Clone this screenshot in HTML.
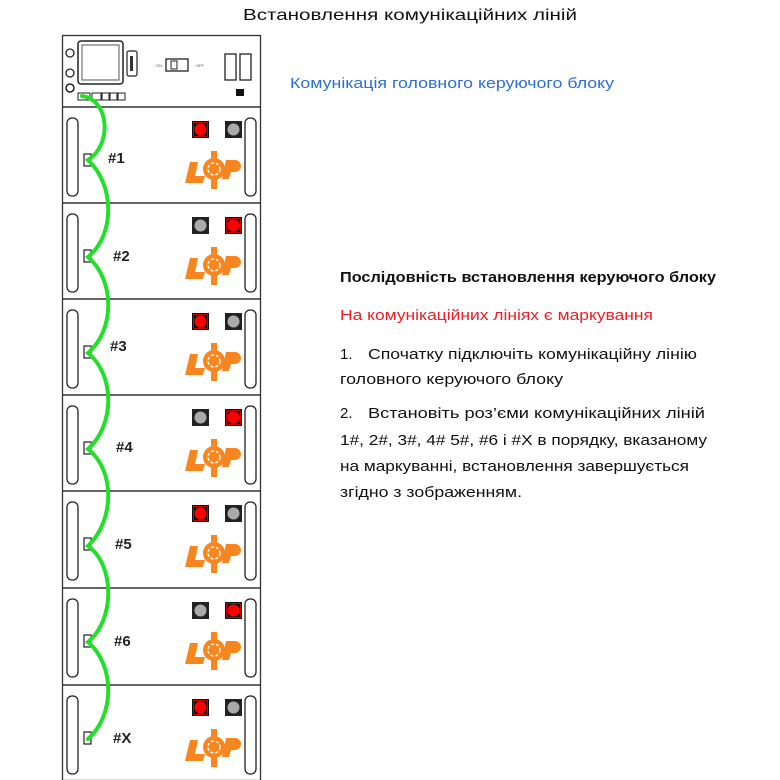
<!DOCTYPE html>
<html><head><meta charset="utf-8"><style>
html,body{margin:0;padding:0;background:#fff;width:780px;height:780px;overflow:hidden}
svg{display:block}
text{font-family:"Liberation Sans",sans-serif}
</style></head><body>
<svg width="780" height="780" viewBox="0 0 780 780" xmlns="http://www.w3.org/2000/svg">
<defs>
<g id="mod">
  <rect x="67" y="11" width="11" height="78" rx="5" fill="#fff" stroke="#222" stroke-width="1.3"/>
  <rect x="245" y="11" width="11" height="78" rx="5" fill="#fff" stroke="#222" stroke-width="1.3"/>
  <rect x="84" y="47" width="7" height="12" fill="#fff" stroke="#222" stroke-width="1.2"/>
  <g fill="#f7861e">
    <path d="M190 55 h8 l-3 14 h10 l-2 7 h-18 z"/>
    <circle cx="214" cy="62" r="11"/>
    <rect x="211" y="44" width="6" height="8"/>
    <rect x="211" y="72" width="6" height="10"/>
    <path d="M226 53 h9 a6 6 0 0 1 0 12 h-4 l-2 7 h-7 z"/>
  </g>
  <circle cx="214" cy="62" r="6" fill="none" stroke="#fff" stroke-width="1.5" stroke-dasharray="3 2"/>
</g>
<g id="red"><rect width="17" height="17" fill="#111"/><circle cx="8.5" cy="8.5" r="6" fill="#f00"/><rect x="1.5" y="1.5" width="14" height="14" fill="none" stroke="#c00" stroke-width="1"/></g>
<g id="grey"><rect width="17" height="17" fill="#222"/><circle cx="8.5" cy="8.5" r="6" fill="#aaa"/></g>
</defs>

<text x="410" y="20" text-anchor="middle" font-size="16" textLength="334" lengthAdjust="spacingAndGlyphs" fill="#111">Встановлення комунікаційних ліній</text>

<!-- outer frame -->
<rect x="62.5" y="35.5" width="198" height="745" fill="#fff" stroke="#333" stroke-width="1.3"/>
<!-- control unit -->
<rect x="78" y="41" width="45" height="43" rx="3" fill="#fff" stroke="#222" stroke-width="1.5"/>
<rect x="82" y="45" width="37" height="35" fill="#fff" stroke="#555" stroke-width="1"/>
<circle cx="70" cy="53" r="4" fill="#fff" stroke="#222" stroke-width="1.3"/>
<circle cx="70" cy="73" r="4" fill="#fff" stroke="#222" stroke-width="1.3"/>
<circle cx="70" cy="88" r="4" fill="#fff" stroke="#222" stroke-width="1.5"/>
<rect x="127" y="51" width="10" height="25" rx="2" fill="#fff" stroke="#222" stroke-width="1.2"/>
<rect x="130" y="56" width="3" height="15" fill="#333"/>
<rect x="166" y="59" width="22" height="12" fill="#fff" stroke="#222" stroke-width="1.3"/>
<rect x="171" y="61" width="6" height="8" fill="#fff" stroke="#222"/>
<text x="156" y="67" font-size="4" fill="#555">ON</text>
<text x="196" y="67" font-size="4" fill="#555">OFF</text>
<rect x="225" y="54" width="11" height="26" fill="#fff" stroke="#222" stroke-width="1.3"/>
<rect x="240" y="54" width="11" height="26" fill="#fff" stroke="#222" stroke-width="1.3"/>
<rect x="236" y="89" width="8" height="7" fill="#111"/>
<rect x="78" y="93" width="12" height="7" fill="#fff" stroke="#222"/>
<rect x="92" y="93" width="9" height="7" fill="#fff" stroke="#222"/>
<rect x="102" y="93" width="7" height="7" fill="#fff" stroke="#222"/>
<rect x="110" y="93" width="7" height="7" fill="#fff" stroke="#222"/>
<rect x="118" y="93" width="7" height="7" fill="#fff" stroke="#222"/>
<line x1="62" y1="107" x2="261" y2="107" stroke="#333" stroke-width="1.5"/>

<!-- modules -->
<g transform="translate(0,107)"><use href="#mod"/><use href="#red" x="192" y="14"/><use href="#grey" x="225" y="14"/></g>
<line x1="62" y1="203" x2="261" y2="203" stroke="#333" stroke-width="1.5"/>
<g transform="translate(0,203)"><use href="#mod"/><use href="#grey" x="192" y="14"/><use href="#red" x="225" y="14"/></g>
<line x1="62" y1="299" x2="261" y2="299" stroke="#333" stroke-width="1.5"/>
<g transform="translate(0,299)"><use href="#mod"/><use href="#red" x="192" y="14"/><use href="#grey" x="225" y="14"/></g>
<line x1="62" y1="395" x2="261" y2="395" stroke="#333" stroke-width="1.5"/>
<g transform="translate(0,395)"><use href="#mod"/><use href="#grey" x="192" y="14"/><use href="#red" x="225" y="14"/></g>
<line x1="62" y1="491" x2="261" y2="491" stroke="#333" stroke-width="1.5"/>
<g transform="translate(0,491)"><use href="#mod"/><use href="#red" x="192" y="14"/><use href="#grey" x="225" y="14"/></g>
<line x1="62" y1="588" x2="261" y2="588" stroke="#333" stroke-width="1.5"/>
<g transform="translate(0,588)"><use href="#mod"/><use href="#grey" x="192" y="14"/><use href="#red" x="225" y="14"/></g>
<line x1="62" y1="685" x2="261" y2="685" stroke="#333" stroke-width="1.5"/>
<g transform="translate(0,685)"><use href="#mod"/><use href="#red" x="192" y="14"/><use href="#grey" x="225" y="14"/></g>

<!-- green cable -->
<path d="M82 96 C110 100,112 145,88 160 C115 185,115 235,88 257 C115 280,115 330,88 353 C115 375,115 425,88 449 C115 470,115 520,88 546 C115 565,115 620,88 642 C115 665,115 715,88 739"
 fill="none" stroke="#22e02a" stroke-width="4" stroke-linecap="round"/>

<!-- labels -->
<g font-size="15" font-weight="bold" fill="#222">
<text x="108" y="163">#1</text>
<text x="113" y="261">#2</text>
<text x="110" y="351">#3</text>
<text x="116" y="452">#4</text>
<text x="115" y="549">#5</text>
<text x="114" y="646">#6</text>
<text x="113" y="743">#X</text>
</g>

<text x="290" y="88" font-size="15" fill="#2a6fd1" textLength="324" lengthAdjust="spacingAndGlyphs">Комунікація головного керуючого блоку</text>
<text x="340" y="282" font-size="15" font-weight="bold" fill="#111" textLength="376" lengthAdjust="spacingAndGlyphs">Послідовність встановлення керуючого блоку</text>
<text x="340" y="320" font-size="15" fill="#ee1c25" textLength="313" lengthAdjust="spacingAndGlyphs">На комунікаційних лініях є маркування</text>
<g font-size="15" fill="#111">
<text x="340" y="359">1.</text>
<text x="368" y="359" textLength="329" lengthAdjust="spacingAndGlyphs">Спочатку підключіть комунікаційну лінію</text>
<text x="340" y="384" textLength="223" lengthAdjust="spacingAndGlyphs">головного керуючого блоку</text>
<text x="340" y="418">2.</text>
<text x="368" y="418" textLength="337" lengthAdjust="spacingAndGlyphs">Встановіть роз’єми комунікаційних ліній</text>
<text x="340" y="445" textLength="367" lengthAdjust="spacingAndGlyphs">1#, 2#, 3#, 4# 5#, #6 і #X в порядку, вказаному</text>
<text x="340" y="471" textLength="349" lengthAdjust="spacingAndGlyphs">на маркуванні, встановлення завершується</text>
<text x="340" y="497" textLength="182" lengthAdjust="spacingAndGlyphs">згідно з зображенням.</text>
</g>
</svg>
</body></html>
